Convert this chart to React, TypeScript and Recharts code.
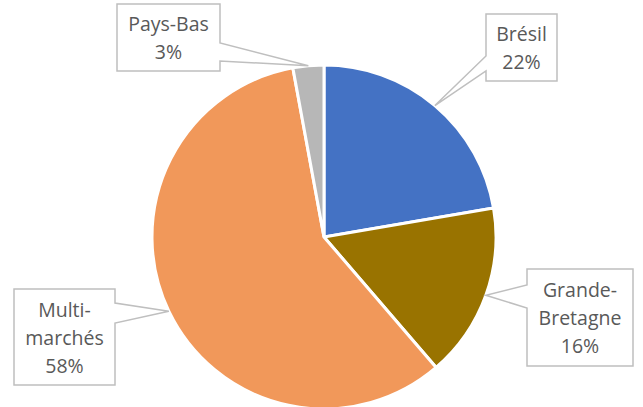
import React from 'react';
import { PieChart, Pie, Cell } from 'recharts';

const categories = ['Brésil', 'Grande-Bretagne', 'Multi-marchés', 'Pays-Bas'];
const shares = [22.3, 16.4, 58.4, 2.9];
const labelLines = [['Brésil', '22%'], ['Grande-', 'Bretagne', '16%'], ['Multi-', 'marchés', '58%'], ['Pays-Bas', '3%']];
const colors = ['#4472C4', '#997300', '#F1985A', '#B7B7B7'];

const data = categories.map((name, i) => ({ name, value: shares[i] }));

// callout box layout relative to the pie centre
const boxes = [
  { x0: 162, y0: -223, x1: 233, y1: -156, side: 'left', pa: -181, pb: -166 },
  { x0: 203, y0: 32, x1: 309, y1: 129, side: 'left', pa: 48, pb: 71 },
  { x0: -310, y0: 52, x1: -209, y1: 148, side: 'right', pa: 66, pb: 86 },
  { x0: -207, y0: -233, x1: -104, y1: -166, side: 'right', pa: -194, pb: -176 },
];

const RADIAN = Math.PI / 180;

const renderLabel = (props: any) => {
  const { cx, cy, midAngle, outerRadius, index } = props;
  const b = boxes[index];
  const tx = cx + outerRadius * Math.cos(-midAngle * RADIAN);
  const ty = cy + outerRadius * Math.sin(-midAngle * RADIAN);
  const x0 = cx + b.x0, x1 = cx + b.x1, y0 = cy + b.y0, y1 = cy + b.y1;
  const pa = cy + b.pa, pb = cy + b.pb;
  let d: string;
  if (b.side === 'right') {
    d = `M${x0},${y0} L${x1},${y0} L${x1},${pa} L${tx},${ty} L${x1},${pb} L${x1},${y1} L${x0},${y1} Z`;
  } else {
    d = `M${x0},${y0} L${x1},${y0} L${x1},${y1} L${x0},${y1} L${x0},${pb} L${tx},${ty} L${x0},${pa} Z`;
  }
  const lines = labelLines[index];
  const xc = (x0 + x1) / 2;
  const yc = (y0 + y1) / 2;
  return (
    <g key={`lbl-${index}`}>
      <path d={d} fill="#FFFFFF" stroke="#BFBFBF" strokeWidth={1.5} />
      {lines.map((t, i) => (
        <text
          key={i}
          x={xc}
          y={yc + (i - (lines.length - 1) / 2) * 28}
          textAnchor="middle"
          dominantBaseline="central"
          fill="#595959"
          fontSize={19.5}
          fontFamily="'Open Sans', 'Noto Sans', sans-serif"
        >
          {t}
        </text>
      ))}
    </g>
  );
};

export default function App() {
  return (
    <div style={{ position: 'absolute', left: 0, top: 0, width: 643, height: 407, background: '#FFFFFF' }}>
      <PieChart width={643} height={407} margin={{ top: 0, right: 0, bottom: 0, left: 0 }}>
        <Pie
          data={data}
          dataKey="value"
          nameKey="name"
          cx={324}
          cy={237}
          outerRadius={172}
          startAngle={90}
          endAngle={-270}
          stroke="#FFFFFF"
          strokeWidth={3}
          label={renderLabel}
          labelLine={false}
          isAnimationActive={false}
        >
          {data.map((d, i) => (
            <Cell key={d.name} fill={colors[i]} />
          ))}
        </Pie>
      </PieChart>
    </div>
  );
}
